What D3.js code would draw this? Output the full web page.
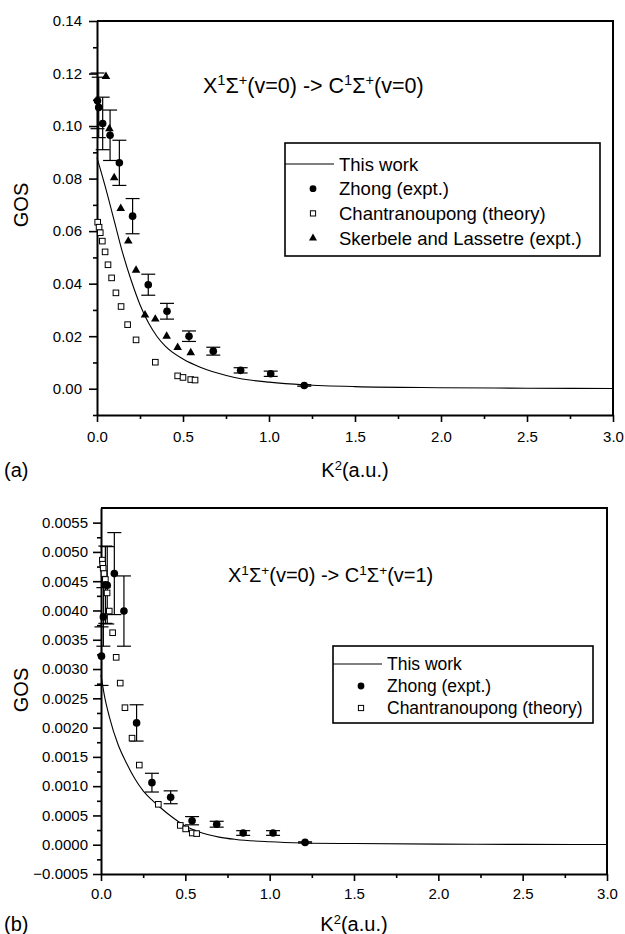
<!DOCTYPE html>
<html>
<head>
<meta charset="utf-8">
<script src="https://cdn.jsdelivr.net/npm/d3@7"></script>
<style>
  body { margin: 0; background: #fff; }
  text { font-family: "Liberation Sans", Arial, sans-serif; fill: #000; }
</style>
</head>
<body>
<script>
var width = 625;
var height = 934;

// ---- panel (a): C(v=0) ----
var curveK_a = [0, 0.05, 0.1, 0.15, 0.2, 0.25, 0.3, 0.35, 0.4, 0.5, 0.6, 0.7, 0.8, 0.9, 1.0, 1.2, 1.5, 2.0, 2.5, 3.0];
var curveGOS_a = [0.088, 0.0765, 0.064, 0.0515, 0.041, 0.032, 0.025, 0.0198, 0.016, 0.0113, 0.0082, 0.006, 0.0043, 0.0032, 0.0025, 0.0015, 0.0008, 0.0004, 0.0002, 0.0001];

var zhongK_a = [0.003, 0.01, 0.033, 0.076, 0.13, 0.207, 0.298, 0.407, 0.535, 0.676, 0.835, 1.01, 1.205];
var zhongGOS_a = [0.1096, 0.1071, 0.101, 0.0965, 0.086, 0.0657, 0.0396, 0.0295, 0.020, 0.0143, 0.007, 0.0057, 0.00125];
var zhongErr_a = [0.0106, 0.0115, 0.010, 0.0096, 0.0086, 0.0067, 0.004, 0.003, 0.002, 0.0015, 0.001, 0.001, 0.0003];

var chantK_a = [0.004, 0.012, 0.019, 0.031, 0.047, 0.064, 0.085, 0.11, 0.14, 0.178, 0.227, 0.339, 0.469, 0.5, 0.545, 0.57];
var chantGOS_a = [0.0634, 0.0615, 0.0594, 0.0562, 0.0521, 0.0472, 0.0422, 0.0365, 0.0313, 0.0244, 0.0186, 0.0101, 0.0049, 0.0043, 0.0035, 0.0033];

var skerK_a = [0.052, 0.072, 0.10, 0.138, 0.182, 0.227, 0.279, 0.339, 0.405, 0.469, 0.545];
var skerGOS_a = [0.1189, 0.099, 0.0803, 0.0686, 0.0562, 0.0451, 0.0281, 0.0265, 0.020, 0.0157, 0.0137];

// ---- panel (b): C(v=1) ----
var curveK_b = [0, 0.02, 0.05, 0.1, 0.15, 0.2, 0.25, 0.3, 0.35, 0.4, 0.5, 0.6, 0.7, 0.8, 1.0, 1.2, 1.5, 2.0, 2.5, 3.0];
var curveGOS_b = [0.0029, 0.00255, 0.00218, 0.00172, 0.0014, 0.00113, 0.00092, 0.00077, 0.00064, 0.00052, 0.00032, 0.0002, 0.00013, 0.00009, 0.00005, 0.00003, 0.00002, 0.00001, 0.000006, 0.000004];

var zhongK_b = [0.003, 0.014, 0.026, 0.037, 0.079, 0.136, 0.211, 0.302, 0.413, 0.54, 0.686, 0.843, 1.02, 1.21];
var zhongGOS_b = [0.00322, 0.00389, 0.00444, 0.00443, 0.00463, 0.00399, 0.00208, 0.00106, 0.00081, 0.00041, 0.00035, 0.0002, 0.0002, 0.00004];
var zhongErr_b = [0.0005, 0.0005, 0.00066, 0.00066, 0.0007, 0.0006, 0.00031, 0.00016, 0.00011, 0.00007, 0.00005, 0.00004, 0.00004, 0.00001];

var chantK_b = [0.008, 0.01, 0.013, 0.018, 0.026, 0.036, 0.049, 0.069, 0.09, 0.114, 0.142, 0.184, 0.227, 0.34, 0.47, 0.502, 0.541, 0.567];
var chantGOS_b = [0.00486, 0.00479, 0.00472, 0.00463, 0.00453, 0.0043, 0.00399, 0.00362, 0.0032, 0.00276, 0.00234, 0.00182, 0.00136, 0.00069, 0.00033, 0.00027, 0.0002, 0.00019];

var xTicks = [0, 0.5, 1.0, 1.5, 2.0, 2.5, 3.0];
var xMinor = [0.25, 0.75, 1.25, 1.75, 2.25, 2.75];
var yTicks_a = [0, 0.02, 0.04, 0.06, 0.08, 0.10, 0.12, 0.14];
var yMinor_a = [-0.01, 0.01, 0.03, 0.05, 0.07, 0.09, 0.11, 0.13];
var yTicks_b = [-0.0005, 0, 0.0005, 0.001, 0.0015, 0.002, 0.0025, 0.003, 0.0035, 0.004, 0.0045, 0.005, 0.0055];
var yMinor_b = [-0.00025, 0.00025, 0.00075, 0.00125, 0.00175, 0.00225, 0.00275, 0.00325, 0.00375, 0.00425, 0.00475, 0.00525];

var legend_a = [["line", "This work"], ["circle", "Zhong (expt.)"], ["square", "Chantranoupong (theory)"], ["triangle", "Skerbele and Lassetre (expt.)"]];
var legend_b = [["line", "This work"], ["circle", "Zhong (expt.)"], ["square", "Chantranoupong (theory)"]];

var svg = d3.select("body")
    .append("svg")
    .attr("width", width)
    .attr("height", height);

function zip(xs, ys, es) {
    return xs.map(function(k, i) { return {k: k, v: ys[i], e: es ? es[i] : 0}; });
}

function drawPanel(o) {
    var x = d3.scaleLinear().domain([0, 3]).range([o.left, o.right]);
    var y = d3.scaleLinear().domain(o.yDomain).range([o.bottom, o.top]);
    var g = svg.append("g");

    // frame top + right
    g.append("path")
        .attr("d", "M" + o.left + "," + o.top + "H" + o.right + "V" + o.bottom)
        .attr("fill", "none").attr("stroke", "#000").attr("stroke-width", 2);

    // x axis
    g.append("g").attr("transform", "translate(0," + o.bottom + ")")
        .call(d3.axisBottom(x).tickValues(xTicks).tickFormat(d3.format(".1f")).tickSize(7).tickSizeOuter(0).tickPadding(o.xPad));
    g.append("g").attr("transform", "translate(0," + o.bottom + ")")
        .call(d3.axisBottom(x).tickValues(xMinor).tickFormat("").tickSize(4).tickSizeOuter(0))
        .select(".domain").remove();

    // y axis
    g.append("g").attr("transform", "translate(" + o.left + ",0)")
        .call(d3.axisLeft(y).tickValues(o.yTicks).tickFormat(d3.format(o.yFormat)).tickSize(8).tickSizeOuter(0).tickPadding(o.yPad));
    g.append("g").attr("transform", "translate(" + o.left + ",0)")
        .call(d3.axisLeft(y).tickValues(o.yMinor).tickFormat("").tickSize(4).tickSizeOuter(0))
        .select(".domain").remove();

    g.selectAll(".domain").attr("stroke-width", 2);
    g.selectAll(".tick line").attr("stroke-width", 1.6);
    g.selectAll(".tick text").attr("font-size", 15).attr("font-family", "Liberation Sans, Arial, sans-serif");

    // model curve
    var line = d3.line()
        .x(function(d) { return x(d.k); })
        .y(function(d) { return y(d.v); })
        .curve(d3.curveMonotoneX);
    g.append("path")
        .datum(zip(o.curveK, o.curveGOS))
        .attr("d", line)
        .attr("fill", "none").attr("stroke", "#000").attr("stroke-width", 1.1);

    // Zhong error bars
    var zd = zip(o.zhongK, o.zhongGOS, o.zhongErr);
    var eb = g.append("g").attr("stroke", "#000").attr("stroke-width", 1.2);
    zd.forEach(function(d) {
        var cx = x(d.k);
        eb.append("line").attr("x1", cx).attr("x2", cx).attr("y1", y(d.v - d.e)).attr("y2", y(d.v + d.e));
        eb.append("line").attr("x1", cx - 7).attr("x2", cx + 7).attr("y1", y(d.v - d.e)).attr("y2", y(d.v - d.e));
        eb.append("line").attr("x1", cx - 7).attr("x2", cx + 7).attr("y1", y(d.v + d.e)).attr("y2", y(d.v + d.e));
    });

    // Chantranoupong squares
    g.selectAll(".sq").data(zip(o.chantK, o.chantGOS)).join("rect")
        .attr("x", function(d) { return x(d.k) - 2.8; })
        .attr("y", function(d) { return y(d.v) - 2.8; })
        .attr("width", 5.6).attr("height", 5.6)
        .attr("fill", "#fff").attr("stroke", "#000").attr("stroke-width", 1);

    // Skerbele triangles
    if (o.skerK) {
        g.selectAll(".tri").data(zip(o.skerK, o.skerGOS)).join("path")
            .attr("transform", function(d) { return "translate(" + x(d.k) + "," + y(d.v) + ")"; })
            .attr("d", d3.symbol(d3.symbolTriangle, 32))
            .attr("fill", "#000");
    }

    // Zhong circles
    g.selectAll(".ci").data(zd).join("circle")
        .attr("cx", function(d) { return x(d.k); })
        .attr("cy", function(d) { return y(d.v); })
        .attr("r", 3.8)
        .attr("fill", "#000");

    // transition label
    var t = g.append("text").attr("x", o.titleX).attr("y", o.titleY).attr("font-size", o.titleSize);
    var parts = [["X", 0], ["1", 1], ["\u03A3", 0], ["+", 1], ["(v=0) -> C", 0], ["1", 1], ["\u03A3", 0], ["+", 1], [o.upper, 0]];
    parts.forEach(function(p) {
        t.append("tspan")
            .attr("font-size", p[1] ? o.titleSize * 0.68 : o.titleSize)
            .attr("baseline-shift", p[1] ? "super" : null)
            .text(p[0]);
    });

    // legend
    var lg = g.append("g");
    lg.append("rect")
        .attr("x", o.legX).attr("y", o.legY).attr("width", o.legW).attr("height", o.legH)
        .attr("fill", "#fff").attr("stroke", "#000").attr("stroke-width", 1.6);
    o.legend.forEach(function(item, i) {
        var cy = o.legY + o.legOff + i * o.legStep;
        var mx = o.legX + 28;
        if (item[0] === "line") {
            lg.append("line").attr("x1", o.legX).attr("x2", o.legX + 49).attr("y1", cy).attr("y2", cy)
                .attr("stroke", "#000").attr("stroke-width", 1.1);
        } else if (item[0] === "circle") {
            lg.append("circle").attr("cx", mx).attr("cy", cy).attr("r", 3.4).attr("fill", "#000");
        } else if (item[0] === "square") {
            lg.append("rect").attr("x", mx - 2.6).attr("y", cy - 2.6).attr("width", 5.2).attr("height", 5.2)
                .attr("fill", "#fff").attr("stroke", "#000");
        } else {
            lg.append("path").attr("transform", "translate(" + mx + "," + cy + ")")
                .attr("d", d3.symbol(d3.symbolTriangle, 28)).attr("fill", "#000");
        }
        lg.append("text").attr("x", o.legX + 54).attr("y", cy + o.legFont * 0.36)
            .attr("font-size", o.legFont).text(item[1]);
    });

    // axis titles
    var xt = g.append("text").attr("x", (o.left + o.right) / 2).attr("y", o.xTitleY)
        .attr("text-anchor", "middle").attr("font-size", 20);
    xt.append("tspan").text("K");
    xt.append("tspan").attr("font-size", 13).attr("baseline-shift", "super").text("2");
    xt.append("tspan").text("(a.u.)");

    g.append("text")
        .attr("transform", "translate(" + 28 + "," + o.gosY + ") rotate(-90)")
        .attr("text-anchor", "middle").attr("font-size", 20).text("GOS");

    g.append("text").attr("x", 4).attr("y", o.xTitleY).attr("font-size", 20).text(o.tag);
}

drawPanel({
    left: 97, right: 613, top: 21, bottom: 415,
    yDomain: [-0.01, 0.14], yTicks: yTicks_a, yMinor: yMinor_a, yFormat: ".2f", yPad: 7, xPad: 9,
    curveK: curveK_a, curveGOS: curveGOS_a,
    zhongK: zhongK_a, zhongGOS: zhongGOS_a, zhongErr: zhongErr_a,
    chantK: chantK_a, chantGOS: chantGOS_a,
    skerK: skerK_a, skerGOS: skerGOS_a,
    titleX: 203, titleY: 93, titleSize: 21.5, upper: "(v=0)",
    legend: legend_a, legX: 285, legY: 143, legW: 315, legH: 113, legOff: 21, legStep: 24.7, legFont: 18.5,
    xTitleY: 477, gosY: 205, tag: "(a)"
});

drawPanel({
    left: 101, right: 607, top: 508, bottom: 874,
    yDomain: [-0.0005, 0.00575], yTicks: yTicks_b, yMinor: yMinor_b, yFormat: ".4f", yPad: 5, xPad: 7,
    curveK: curveK_b, curveGOS: curveGOS_b,
    zhongK: zhongK_b, zhongGOS: zhongGOS_b, zhongErr: zhongErr_b,
    chantK: chantK_b, chantGOS: chantGOS_b,
    titleX: 228, titleY: 582, titleSize: 20, upper: "(v=1)",
    legend: legend_b, legX: 333, legY: 646, legW: 260, legH: 77, legOff: 18, legStep: 22, legFont: 17.5,
    xTitleY: 931, gosY: 690, tag: "(b)"
});
</script>
</body>
</html>
